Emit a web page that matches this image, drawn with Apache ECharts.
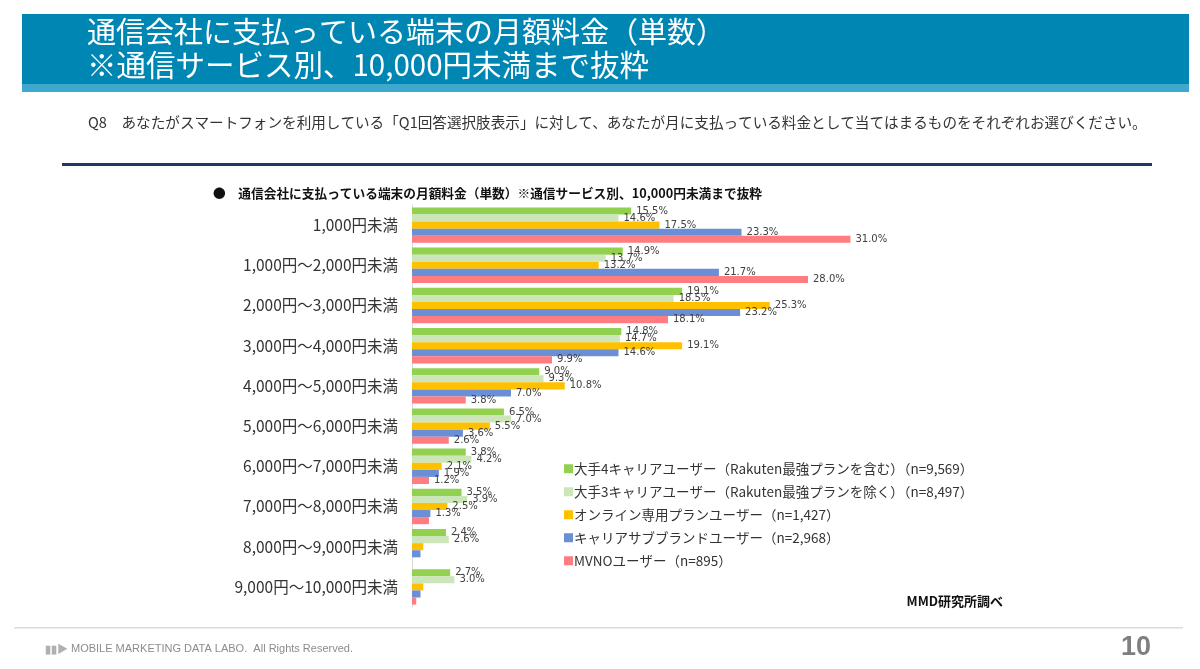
<!DOCTYPE html>
<html>
<head>
<meta charset="utf-8">
<script src="https://cdn.jsdelivr.net/npm/echarts@6/dist/echarts.min.js"></script>
<style>
html, body { margin: 0; padding: 0; background: #fff; }
#main { width: 1200px; height: 669px; }
</style>
</head>
<body>
<div id="main"></div>
<script>
var myChart = echarts.init(document.getElementById('main'));

// 料金帯
var categories = ['1,000円未満', '1,000円～2,000円未満', '2,000円～3,000円未満', '3,000円～4,000円未満',
	'4,000円～5,000円未満', '5,000円～6,000円未満', '6,000円～7,000円未満', '7,000円～8,000円未満',
	'8,000円～9,000円未満', '9,000円～10,000円未満'];

var seriesNames = [
	'大手4キャリアユーザー（Rakuten最強プランを含む）（n=9,569）',
	'大手3キャリアユーザー（Rakuten最強プランを除く）（n=8,497）',
	'オンライン専用プランユーザー（n=1,427）',
	'キャリアサブブランドユーザー（n=2,968）',
	'MVNOユーザー（n=895）'
];

// 値（%）
var major4 = [15.5, 14.9, 19.1, 14.8, 9.0, 6.5, 3.8, 3.5, 2.4, 2.7];
var major3 = [14.6, 13.7, 18.5, 14.7, 9.3, 7.0, 4.2, 3.9, 2.6, 3.0];
var online = [17.5, 13.2, 25.3, 19.1, 10.8, 5.5, 2.1, 2.5, 0.8, 0.8];
var subBrand = [23.3, 21.7, 23.2, 14.6, 7.0, 3.6, 1.9, 1.3, 0.6, 0.6];
var mvno = [31.0, 28.0, 18.1, 9.9, 3.8, 2.6, 1.2, 1.2, 0.0, 0.3];

// ラベルを出さない項目（元資料で省略されているもの）
var hiddenLabels = [[], [], [], [], [7]];

var colors = ['#92d050', '#cde6b9', '#ffc000', '#6a8fd6', '#ff7c80'];
var allValues = [major4, major3, online, subBrand, mvno];

var series = allValues.map(function(vals, s) {
	return {
		name: seriesNames[s],
		type: 'bar',
		barGap: 0,
		barCategoryGap: '12%',
		data: vals.map(function(v, i) {
			var show = v >= 1 && hiddenLabels[s].indexOf(i) < 0;
			return { value: v, label: { show: show } };
		}),
		label: {
			position: 'right',
			distance: 5,
			fontFamily: 'DejaVu Sans',
			fontSize: 10,
			color: '#404040',
			formatter: function(p) {
				return p.value.toFixed(1) + '%';
			}
		}
	};
});

var cjk = '"Noto Sans CJK JP", sans-serif';

var option = {
	color: colors,
	animation: false,
	textStyle: { fontFamily: cjk },
	grid: {
		left: 412,
		top: 205,
		width: 495,
		height: 402
	},
	legend: {
		orient: 'vertical',
		left: 559,
		top: 457,
		itemWidth: 9,
		itemHeight: 9,
		itemGap: 9.5,
		icon: 'rect',
		textStyle: { fontSize: 13.5, color: '#333', padding: [0, 0, 0, -4] },
		data: seriesNames
	},
	xAxis: {
		type: 'value',
		min: 0,
		max: 35,
		show: false
	},
	yAxis: {
		type: 'category',
		inverse: true,
		data: categories,
		axisLine: { lineStyle: { color: '#d9d9d9' } },
		axisTick: { show: false },
		axisLabel: { fontSize: 15.5, color: '#333', margin: 14 }
	},
	graphic: [
		{ type: 'rect', shape: { x: 22, y: 14, width: 1167, height: 70 }, style: { fill: '#0086b3' } },
		{ type: 'rect', shape: { x: 22, y: 84, width: 1167, height: 8 }, style: { fill: '#3ea8cf' } },
		{ type: 'text', x: 87, y: 32, style: { text: '通信会社に支払っている端末の月額料金（単数）', fill: '#fff', font: '400 29px ' + cjk, verticalAlign: 'middle' } },
		{ type: 'text', x: 87, y: 65, style: { text: '※通信サービス別、10,000円未満まで抜粋', fill: '#fff', font: '400 29.5px ' + cjk, verticalAlign: 'middle' } },
		{ type: 'text', x: 88, y: 122, style: { text: 'Q8　あなたがスマートフォンを利用している「Q1回答選択肢表示」に対して、あなたが月に支払っている料金として当てはまるものをそれぞれお選びください。', fill: '#333', font: '14.6px ' + cjk, verticalAlign: 'middle' } },
		{ type: 'rect', shape: { x: 62, y: 163, width: 1090, height: 3 }, style: { fill: '#213660' } },
		{ type: 'text', x: 213, y: 193, style: { text: '●　通信会社に支払っている端末の月額料金（単数）※通信サービス別、10,000円未満まで抜粋', fill: '#111', font: 'bold 12.7px ' + cjk, verticalAlign: 'middle' } },
		{ type: 'text', x: 1003, y: 601, style: { text: 'MMD研究所調べ', fill: '#111', font: 'bold 13px ' + cjk, verticalAlign: 'middle', align: 'right' } },
		{ type: 'rect', shape: { x: 14, y: 627, width: 1169, height: 1.5 }, style: { fill: '#dcdcdc' } },
		{ type: 'text', x: 45, y: 649, style: { text: '▮▮▶', fill: '#b0b0b0', font: 'bold 11px ' + cjk, verticalAlign: 'middle' } },
		{ type: 'text', x: 71, y: 649, style: { text: 'MOBILE MARKETING DATA LABO.  All Rights Reserved.', fill: '#8c8c8c', font: '11px "Liberation Sans Narrow", "Liberation Sans", sans-serif', verticalAlign: 'middle' } },
		{ type: 'text', x: 1151, y: 648, style: { text: '10', fill: '#7f7f7f', font: 'bold 27px "Liberation Sans Narrow", "Liberation Sans", sans-serif', verticalAlign: 'middle', align: 'right' } }
	],
	series: series
};

myChart.setOption(option);
</script>
</body>
</html>
